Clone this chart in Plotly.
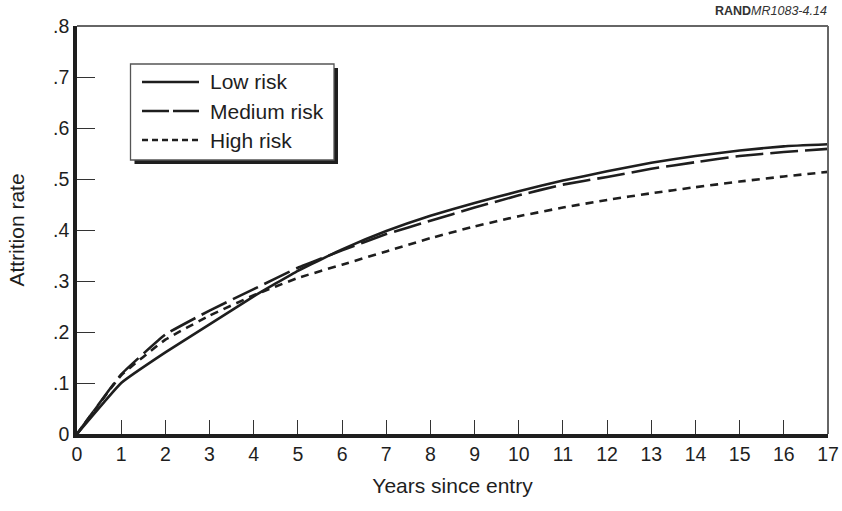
import plotly.graph_objects as go

# Attrition by years since entry, for three risk groups
years = list(range(0, 18))
low_risk = [0, 0.100, 0.160, 0.215, 0.270, 0.320, 0.362, 0.398, 0.428, 0.453,
            0.476, 0.497, 0.515, 0.532, 0.545, 0.556, 0.564, 0.568]
medium_risk = [0, 0.117, 0.195, 0.242, 0.284, 0.326, 0.360, 0.392, 0.418, 0.444,
               0.468, 0.489, 0.504, 0.520, 0.533, 0.545, 0.553, 0.559]
high_risk = [0, 0.115, 0.185, 0.232, 0.272, 0.306, 0.332, 0.358, 0.384, 0.407,
             0.427, 0.444, 0.459, 0.472, 0.484, 0.495, 0.505, 0.514]

y_tickvals = [0, 0.1, 0.2, 0.3, 0.4, 0.5, 0.6, 0.7, 0.8]
y_ticktext = ["0", ".1", ".2", ".3", ".4", ".5", ".6", ".7", ".8"]
x_tickvals = years

series = [
    ("Low risk", low_risk, "solid", "solid"),
    ("Medium risk", medium_risk, "28px,7px", "27px,4px"),
    ("High risk", high_risk, "8px,6px", "6px,4px"),
]

W, H = 842, 511
ML, MR, MT, MB = 77, 14, 26, 77
PW, PH = W - ML - MR, H - MT - MB
FONT = "Liberation Sans, Arial, sans-serif"
INK = "#1e1e1e"


def px(x):
    return (x - ML) / PW


def py(y):
    return (H - MB - y) / PH


fig = go.Figure()
for name, vals, dash, _ in series:
    fig.add_trace(go.Scatter(
        x=years, y=vals, mode="lines", name=name, showlegend=False,
        line=dict(color=INK, width=2.6, dash=dash, shape="spline", smoothing=0.3),
    ))

shapes = []
annotations = []

# grey top and right frame lines
shapes.append(dict(type="line", xref="paper", yref="paper", x0=0, x1=1, y0=1, y1=1,
                   line=dict(color="#666", width=2)))
shapes.append(dict(type="line", xref="paper", yref="paper", x0=1, x1=1, y0=0, y1=1,
                   line=dict(color="#666", width=2)))

# key box with drop shadow
bx0, bx1, by0, by1 = 130.5, 334, 64, 160
shapes.append(dict(type="rect", xref="paper", yref="paper",
                   x0=px(bx0 + 4), x1=px(bx1 + 4), y0=py(by1 + 4), y1=py(by0 + 4),
                   fillcolor=INK, line=dict(width=0)))
shapes.append(dict(type="rect", xref="paper", yref="paper",
                   x0=px(bx0), x1=px(bx1), y0=py(by1), y1=py(by0),
                   fillcolor="white", line=dict(color="#555", width=1.3)))
for i, (name, _, _, key_dash) in enumerate(series):
    yy = 82 + i * 29
    shapes.append(dict(type="line", xref="paper", yref="paper",
                       x0=px(142), x1=px(199), y0=py(yy), y1=py(yy),
                       line=dict(color=INK, width=2.6, dash=key_dash)))
    annotations.append(dict(x=px(208), y=py(yy), xref="paper", yref="paper",
                            text=name, showarrow=False, xanchor="left", yanchor="middle",
                            font=dict(family=FONT, size=21, color=INK)))

annotations.append(dict(x=px(829), y=py(11), xref="paper", yref="paper",
                        text="<b>RAND</b><i>MR1083-4.14</i>", showarrow=False,
                        xanchor="right", yanchor="middle",
                        font=dict(family=FONT, size=12.5, color="#333")))

fig.update_layout(
    width=W, height=H,
    margin=dict(l=ML, r=MR, t=MT, b=MB),
    paper_bgcolor="white", plot_bgcolor="white",
    font=dict(family=FONT, size=19, color=INK),
    shapes=shapes, annotations=annotations,
    xaxis=dict(
        range=[0, 17], tickvals=x_tickvals, ticks="inside", ticklen=14,
        tickwidth=1.2, tickcolor="#333", showgrid=False, zeroline=False,
        showline=True, linecolor=INK, linewidth=3.5, automargin=False,
        tickfont=dict(family=FONT, size=19.5, color=INK),
        title=dict(text="Years since entry", standoff=15,
                   font=dict(family=FONT, size=21, color=INK)),
    ),
    yaxis=dict(
        range=[0, 0.8], tickvals=y_tickvals, ticktext=y_ticktext, ticks="inside",
        ticklen=18, tickwidth=1.2, tickcolor="#333", showgrid=False, zeroline=False,
        showline=True, linecolor=INK, linewidth=3.5, automargin=False,
        tickfont=dict(family=FONT, size=19.5, color=INK),
        title=dict(text="Attrition rate", standoff=24,
                   font=dict(family=FONT, size=21, color=INK)),
    ),
)

fig.write_html("out.html")
